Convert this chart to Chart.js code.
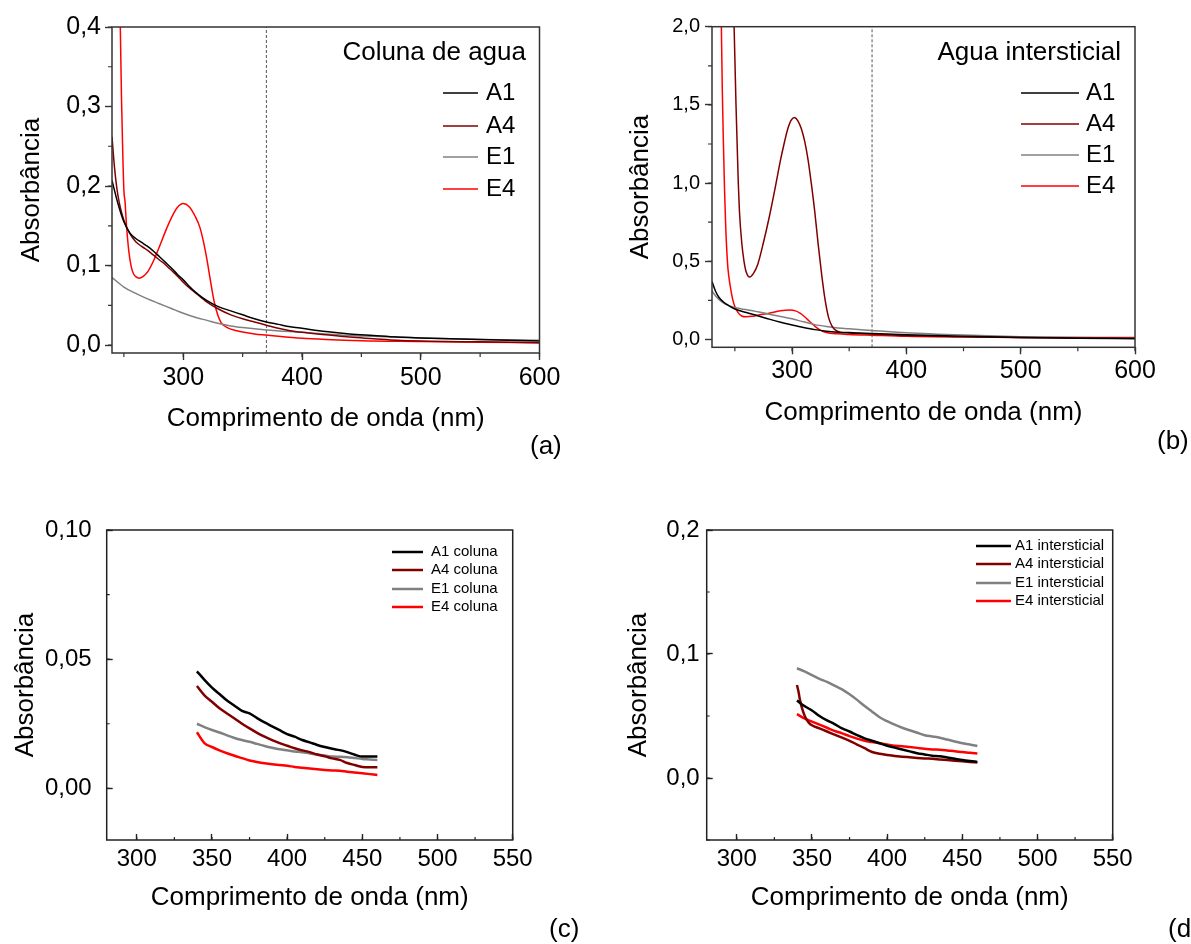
<!DOCTYPE html>
<html>
<head>
<meta charset="utf-8">
<title>Absorbância</title>
<script src="https://cdn.jsdelivr.net/npm/chart.js@4.4.0/dist/chart.umd.min.js"></script>
<style>
  html, body { margin: 0; padding: 0; background: #fff; }
  #page { position: relative; width: 1191px; height: 944px; overflow: hidden; }
  canvas { position: absolute; }
</style>
</head>
<body>
<div id="page">
  <canvas id="chartA" width="595" height="470" style="left:0;top:0"></canvas>
  <canvas id="chartB" width="596" height="470" style="left:595px;top:0"></canvas>
  <canvas id="chartC" width="595" height="474" style="left:0;top:470px"></canvas>
  <canvas id="chartD" width="596" height="474" style="left:595px;top:470px"></canvas>
</div>
<script>
// (a) coluna de agua, full spectrum
const colA1Nm = [240, 245, 250, 255, 260, 265, 270, 275, 280, 285, 290, 295, 300, 305, 310, 315, 320, 330, 340, 350, 360, 370, 380, 390, 400, 420, 440, 460, 480, 500, 550, 600];
const colA1 = [0.207, 0.178, 0.155, 0.141, 0.134, 0.129, 0.124, 0.118, 0.111, 0.104, 0.097, 0.089, 0.082, 0.074, 0.067, 0.061, 0.056, 0.048, 0.043, 0.038, 0.033, 0.029, 0.026, 0.023, 0.021, 0.017, 0.014, 0.012, 0.010, 0.009, 0.007, 0.005];
const colA4Nm = [240, 242, 244, 246, 248, 250, 255, 260, 265, 270, 275, 280, 285, 290, 295, 300, 305, 310, 315, 320, 330, 340, 350, 360, 370, 380, 390, 400, 420, 440, 460, 480, 500, 550, 600];
const colA4 = [0.262, 0.225, 0.198, 0.180, 0.167, 0.157, 0.140, 0.130, 0.124, 0.119, 0.113, 0.107, 0.101, 0.094, 0.087, 0.079, 0.072, 0.066, 0.060, 0.054, 0.045, 0.038, 0.033, 0.029, 0.025, 0.021, 0.018, 0.016, 0.013, 0.010, 0.008, 0.006, 0.005, 0.004, 0.003];
const colE1Nm = [240, 250, 260, 270, 280, 290, 300, 310, 320, 330, 340, 350, 370, 400, 420, 440, 460, 480, 500, 550, 600];
const colE1 = [0.085, 0.073, 0.065, 0.058, 0.052, 0.046, 0.040, 0.035, 0.031, 0.027, 0.024, 0.022, 0.019, 0.016, 0.014, 0.012, 0.011, 0.010, 0.009, 0.007, 0.006];
const colE4Nm = [244, 246, 247, 248, 249, 250, 251, 252, 254, 256, 258, 260, 263, 266, 270, 275, 280, 285, 290, 295, 300, 305, 310, 314, 317, 320, 323, 326, 329, 332, 336, 340, 350, 360, 370, 380, 400, 420, 450, 500, 550, 600];
const colE4 = [0.80, 0.50, 0.40, 0.31, 0.245, 0.195, 0.18, 0.155, 0.12, 0.10, 0.090, 0.086, 0.084, 0.086, 0.092, 0.106, 0.124, 0.143, 0.160, 0.173, 0.178, 0.174, 0.162, 0.148, 0.130, 0.107, 0.080, 0.055, 0.038, 0.028, 0.023, 0.020, 0.0165, 0.014, 0.0125, 0.011, 0.0085, 0.007, 0.0055, 0.0045, 0.0035, 0.003];

// (b) agua intersticial, full spectrum
const intA1Nm = [230, 233, 236, 240, 245, 250, 260, 270, 280, 290, 300, 310, 320, 330, 340, 350, 370, 400, 450, 500, 550, 600];
const intA1 = [0.37, 0.31, 0.27, 0.24, 0.215, 0.195, 0.172, 0.152, 0.130, 0.110, 0.093, 0.077, 0.063, 0.053, 0.047, 0.044, 0.038, 0.030, 0.020, 0.013, 0.008, 0.005];
const intA4Nm = [246, 249, 250, 251, 252, 253, 254, 256, 258, 260, 263, 266, 270, 275, 280, 285, 290, 293, 296, 299, 302, 305, 308, 311, 314, 317, 320, 323, 326, 329, 332, 335, 338, 342, 350, 370, 400, 450, 500, 550, 600];
const intA4 = [3.0, 2.1, 1.8, 1.5, 1.25, 1.0, 0.82, 0.62, 0.50, 0.43, 0.40, 0.42, 0.48, 0.62, 0.78, 0.96, 1.15, 1.25, 1.34, 1.40, 1.42, 1.40, 1.35, 1.27, 1.15, 0.99, 0.81, 0.60, 0.41, 0.25, 0.14, 0.085, 0.06, 0.047, 0.042, 0.035, 0.025, 0.017, 0.012, 0.010, 0.008];
const intE1Nm = [230, 233, 237, 242, 248, 255, 263, 270, 280, 290, 300, 310, 320, 330, 340, 350, 370, 400, 450, 500, 550, 600];
const intE1 = [0.31, 0.28, 0.25, 0.225, 0.208, 0.197, 0.187, 0.177, 0.162, 0.147, 0.132, 0.113, 0.095, 0.083, 0.074, 0.068, 0.058, 0.043, 0.028, 0.018, 0.012, 0.008];
const intE4Nm = [236, 238, 239, 240, 241, 242, 243, 244, 246, 248, 250, 253, 256, 260, 265, 270, 280, 290, 298, 303, 307, 311, 315, 320, 325, 330, 340, 350, 370, 400, 450, 500, 550, 600];
const intE4 = [3.0, 2.1, 1.6, 1.25, 0.95, 0.72, 0.56, 0.45, 0.34, 0.26, 0.21, 0.17, 0.15, 0.145, 0.148, 0.155, 0.168, 0.183, 0.188, 0.183, 0.168, 0.145, 0.118, 0.085, 0.058, 0.045, 0.036, 0.032, 0.027, 0.020, 0.016, 0.013, 0.012, 0.012];

// (c) and (d) zoom 340-460 nm
const zoomNm = [340, 345, 350, 355, 360, 365, 370, 375, 380, 385, 390, 395, 400, 405, 410, 415, 420, 425, 430, 435, 440, 445, 450, 455, 460];
const cA1 = [0.0453, 0.042, 0.039, 0.0365, 0.034, 0.032, 0.030, 0.029, 0.0272, 0.0255, 0.024, 0.0225, 0.021, 0.020, 0.0187, 0.0178, 0.0168, 0.016, 0.0153, 0.0148, 0.014, 0.013, 0.0123, 0.0123, 0.0123];
const cA4 = [0.0396, 0.036, 0.0335, 0.031, 0.029, 0.027, 0.025, 0.0232, 0.0215, 0.020, 0.0187, 0.0175, 0.0165, 0.0155, 0.0147, 0.014, 0.0131, 0.0124, 0.0116, 0.011, 0.0098, 0.009, 0.0083, 0.0082, 0.0082];
const cE1 = [0.025, 0.0237, 0.0226, 0.0216, 0.0205, 0.0195, 0.0187, 0.018, 0.0172, 0.0164, 0.0157, 0.0151, 0.0147, 0.0143, 0.014, 0.0135, 0.0131, 0.0127, 0.0123, 0.0122, 0.012, 0.0117, 0.0114, 0.0112, 0.011];
const cE4 = [0.0217, 0.0175, 0.016, 0.0147, 0.0136, 0.0126, 0.0117, 0.0108, 0.0102, 0.0097, 0.0093, 0.009, 0.0087, 0.0083, 0.008, 0.0077, 0.0074, 0.0071, 0.0069, 0.0068, 0.0064, 0.0061, 0.0058, 0.0055, 0.0052];
const dA1 = [0.0625, 0.058, 0.0545, 0.050, 0.0465, 0.0435, 0.040, 0.0375, 0.0345, 0.032, 0.030, 0.028, 0.026, 0.0245, 0.023, 0.0215, 0.020, 0.019, 0.018, 0.0175, 0.0165, 0.0155, 0.0145, 0.0137, 0.013];
const dA4Nm = [340, 341, 342, 344, 346, 348, 350, 355, 360, 365, 370, 375, 380, 385, 390, 395, 400, 405, 410, 415, 420, 425, 430, 435, 440, 445, 450, 455, 460];
const dA4 = [0.075, 0.070, 0.063, 0.054, 0.048, 0.0445, 0.0425, 0.040, 0.0375, 0.035, 0.0325, 0.030, 0.027, 0.024, 0.021, 0.0195, 0.0185, 0.0178, 0.0172, 0.0167, 0.0162, 0.0158, 0.0155, 0.015, 0.0145, 0.014, 0.0135, 0.013, 0.0124];
const dE1 = [0.0885, 0.086, 0.083, 0.080, 0.0775, 0.0745, 0.0715, 0.0675, 0.063, 0.058, 0.0535, 0.049, 0.0458, 0.043, 0.0405, 0.0385, 0.0365, 0.0345, 0.0335, 0.0325, 0.031, 0.0295, 0.028, 0.027, 0.0258];
const dE4 = [0.0515, 0.048, 0.0455, 0.043, 0.0405, 0.038, 0.036, 0.0338, 0.0318, 0.030, 0.029, 0.028, 0.027, 0.026, 0.0257, 0.025, 0.0243, 0.0236, 0.023, 0.0228, 0.0222, 0.0215, 0.021, 0.0203, 0.0197];

const cutoffNm = 370;

const FONT = "'Liberation Sans', Arial, Helvetica, sans-serif";
Chart.defaults.font.family = FONT;
Chart.defaults.color = "#000";

const colors = { A1: "#000000", A4: "#800000", E1: "#808080", E4: "#ff0000" };

function pairs(xs, ys) {
  return xs.map((x, i) => ({ x: x, y: ys[i] }));
}

function comma(digits) {
  return (v) => v.toFixed(digits).replace(".", ",");
}

function series(label, key, xs, ys, width) {
  return {
    label: label,
    data: pairs(xs, ys),
    borderColor: colors[key],
    borderWidth: width,
    pointRadius: 0,
    fill: false,
    cubicInterpolationMode: "monotone",
  };
}

function cutoffLine(yMin, yMax) {
  return {
    label: "",
    data: [{ x: cutoffNm, y: yMin }, { x: cutoffNm, y: yMax }],
    borderColor: "#555",
    borderWidth: 1,
    borderDash: [3, 2],
    pointRadius: 0,
    tension: 0,
  };
}

// frame, minor ticks, legend block and panel letter
const decor = {
  id: "decor",
  afterDatasetsDraw(chart, args, o) {
    const { ctx, chartArea: a, scales } = chart;
    ctx.save();
    ctx.strokeStyle = o.frameColor;
    ctx.lineWidth = o.frameWidth;
    ctx.strokeRect(a.left, a.top, a.right - a.left, a.bottom - a.top);

    const dir = o.inward ? -1 : 1;
    ctx.lineWidth = 1.2;
    ctx.beginPath();
    const xs = scales.x;
    for (let v = Math.ceil(xs.min / o.minorX) * o.minorX; v <= xs.max; v += o.minorX) {
      const px = xs.getPixelForValue(v);
      ctx.moveTo(px, a.bottom);
      ctx.lineTo(px, a.bottom + dir * o.minorLen);
    }
    const ys = scales.y;
    const n0 = Math.ceil(ys.min / o.minorY - 1e-9);
    for (let k = n0; k * o.minorY <= ys.max + 1e-9; k++) {
      const py = ys.getPixelForValue(k * o.minorY);
      ctx.moveTo(a.left, py);
      ctx.lineTo(a.left - dir * o.minorLen, py);
    }
    ctx.stroke();
    ctx.restore();
  },
  afterDraw(chart, args, o) {
    const { ctx } = chart;
    const lg = o.legend;
    ctx.save();
    ctx.fillStyle = "#000";
    ctx.textBaseline = "middle";
    if (lg.title) {
      ctx.font = lg.titleSize + "px " + FONT;
      ctx.textAlign = "right";
      ctx.fillText(lg.title, lg.titleRight, lg.titleY);
    }
    ctx.textAlign = "left";
    ctx.font = lg.size + "px " + FONT;
    const sets = chart.data.datasets.filter((d) => d.label);
    sets.forEach((d, i) => {
      const y = lg.rows[i];
      ctx.strokeStyle = d.borderColor;
      ctx.lineWidth = lg.lineWidth;
      ctx.beginPath();
      ctx.moveTo(lg.x1, y);
      ctx.lineTo(lg.x2, y);
      ctx.stroke();
      ctx.fillText(d.label, lg.textX, y);
    });
    ctx.font = o.tag.size + "px " + FONT;
    ctx.fillText(o.tag.text, o.tag.x, o.tag.y);
    ctx.restore();
  },
};

function makeChart(id, p) {
  return new Chart(document.getElementById(id), {
    type: "line",
    data: { datasets: p.datasets },
    options: {
      responsive: false,
      animation: false,
      events: [],
      layout: { padding: { left: 0, top: p.padTop, right: p.padRight, bottom: 0 } },
      plugins: {
        legend: { display: false },
        tooltip: { enabled: false },
        decor: p.decor,
      },
      scales: {
        x: {
          type: "linear",
          min: p.x.min,
          max: p.x.max,
          afterFit: (s) => { s.height = p.x.height; },
          border: { display: false },
          grid: {
            drawOnChartArea: false,
            tickLength: p.tickLen,
            tickColor: p.axisColor,
            tickWidth: 1.4,
          },
          ticks: {
            stepSize: p.x.step,
            includeBounds: false,
            autoSkip: false,
            maxRotation: 0,
            padding: p.x.labelPad,
            font: { size: p.x.fontSize },
            color: "#000",
            callback: (v) => String(v),
          },
          title: {
            display: true,
            text: "Comprimento de onda (nm)",
            font: { size: 26 },
            color: "#000",
            padding: { top: 0, bottom: p.x.titlePad },
          },
        },
        y: {
          min: p.y.min,
          max: p.y.max,
          afterFit: (s) => { s.width = p.y.width; },
          border: { display: false },
          grid: {
            drawOnChartArea: false,
            tickLength: p.tickLen,
            tickColor: p.axisColor,
            tickWidth: 1.4,
          },
          ticks: {
            stepSize: p.y.step,
            includeBounds: false,
            autoSkip: false,
            padding: p.y.labelPad,
            font: { size: p.y.fontSize },
            color: "#000",
            callback: comma(p.y.digits),
          },
          title: {
            display: true,
            text: "Absorbância",
            font: { size: 26 },
            color: "#000",
            padding: { top: p.y.titlePad, bottom: 0 },
          },
        },
      },
    },
    plugins: [decor],
  });
}

makeChart("chartA", {
  datasets: [
    series("A1", "A1", colA1Nm, colA1, 1.5),
    series("A4", "A4", colA4Nm, colA4, 1.5),
    series("E1", "E1", colE1Nm, colE1, 1.5),
    series("E4", "E4", colE4Nm, colE4, 1.5),
    cutoffLine(-0.01, 0.4),
  ],
  padTop: 27,
  padRight: 55.5,
  tickLen: 7,
  axisColor: "#333",
  x: { min: 240, max: 600, step: 100, height: 117, labelPad: 3, fontSize: 25, titlePad: 36 },
  y: { min: -0.01, max: 0.4, step: 0.1, width: 112, labelPad: 4, fontSize: 25, digits: 1, titlePad: 16 },
  decor: {
    frameColor: "#333", frameWidth: 1.5, inward: false, minorLen: 4, minorX: 50, minorY: 0.05,
    legend: { title: "Coluna de agua", titleSize: 26, titleRight: 526, titleY: 53,
      size: 24, x1: 443, x2: 478, textX: 486, rows: [93, 126, 157, 189], lineWidth: 1.5 },
    tag: { text: "(a)", x: 530, y: 447, size: 26 },
  },
});

makeChart("chartB", {
  datasets: [
    series("A1", "A1", intA1Nm, intA1, 1.5),
    series("A4", "A4", intA4Nm, intA4, 1.5),
    series("E1", "E1", intE1Nm, intE1, 1.5),
    series("E4", "E4", intE4Nm, intE4, 1.5),
    cutoffLine(-0.05, 2.0),
  ],
  padTop: 26.7,
  padRight: 56,
  tickLen: 7,
  axisColor: "#333",
  x: { min: 230, max: 600, step: 100, height: 122.7, labelPad: 2, fontSize: 25, titlePad: 42 },
  y: { min: -0.05, max: 2.0, step: 0.5, width: 117, labelPad: 5, fontSize: 20, digits: 1, titlePad: 30 },
  decor: {
    frameColor: "#333", frameWidth: 1.5, inward: false, minorLen: 4, minorX: 50, minorY: 0.25,
    legend: { title: "Agua intersticial", titleSize: 26, titleRight: 526, titleY: 53,
      size: 24, x1: 426, x2: 484, textX: 491, rows: [93, 124, 155, 186], lineWidth: 1.5 },
    tag: { text: "(b)", x: 562, y: 442, size: 26 },
  },
});

makeChart("chartC", {
  datasets: [
    series("A1 coluna", "A1", zoomNm, cA1, 2.5),
    series("A4 coluna", "A4", zoomNm, cA4, 2.5),
    series("E1 coluna", "E1", zoomNm, cE1, 2.5),
    series("E4 coluna", "E4", zoomNm, cE4, 2.5),
  ],
  padTop: 60,
  padRight: 82.3,
  tickLen: -6,
  axisColor: "#222",
  x: { min: 280, max: 550, step: 50, height: 104, labelPad: 11, fontSize: 24, titlePad: 31 },
  y: { min: -0.02, max: 0.10, step: 0.05, width: 106.7, labelPad: 21, fontSize: 24, digits: 2, titlePad: 10 },
  decor: {
    frameColor: "#222", frameWidth: 1.5, inward: true, minorLen: 3, minorX: 25, minorY: 0.025,
    legend: { title: "", size: 15, x1: 392, x2: 423, textX: 431, rows: [82, 100, 119, 137], lineWidth: 2.5 },
    tag: { text: "(c)", x: 549, y: 460, size: 26 },
  },
});

makeChart("chartD", {
  datasets: [
    series("A1 intersticial", "A1", zoomNm, dA1, 2.5),
    series("A4 intersticial", "A4", dA4Nm, dA4, 2.5),
    series("E1 intersticial", "E1", zoomNm, dE1, 2.5),
    series("E4 intersticial", "E4", zoomNm, dE4, 2.5),
  ],
  padTop: 60,
  padRight: 78.3,
  tickLen: -6,
  axisColor: "#222",
  x: { min: 280, max: 550, step: 50, height: 104, labelPad: 11, fontSize: 24, titlePad: 31 },
  y: { min: -0.05, max: 0.2, step: 0.1, width: 111.7, labelPad: 13, fontSize: 24, digits: 1, titlePad: 28 },
  decor: {
    frameColor: "#222", frameWidth: 1.5, inward: true, minorLen: 3, minorX: 25, minorY: 0.05,
    legend: { title: "", size: 15, x1: 381, x2: 416, textX: 420, rows: [76, 94, 113, 131], lineWidth: 2.5 },
    tag: { text: "(d)", x: 573, y: 460, size: 26 },
  },
});
</script>
</body>
</html>
